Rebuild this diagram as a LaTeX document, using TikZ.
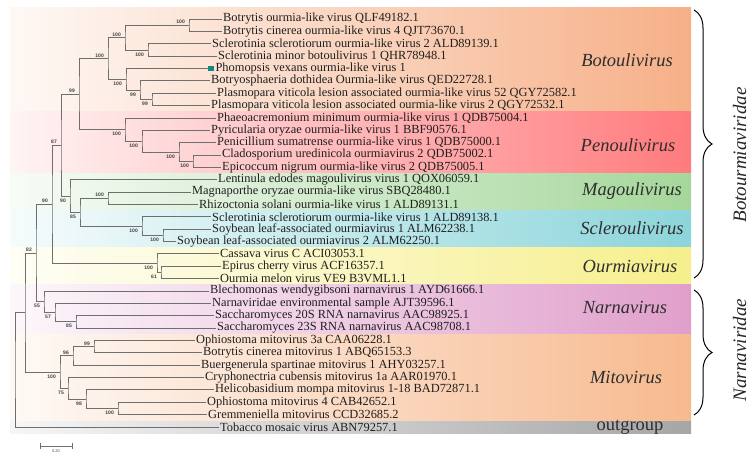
\documentclass[tikz,border=0pt]{standalone}
\usepackage{fontspec}
\setmainfont{Liberation Serif}
\newfontfamily\bsfont{Liberation Sans}
\usetikzlibrary{decorations.pathreplacing}

\definecolor{botoC}{HTML}{F6B088}
\definecolor{penoC}{HTML}{FF7B7D}
\definecolor{magoC}{HTML}{A5D79B}
\definecolor{scleC}{HTML}{8CD5DA}
\definecolor{ourmC}{HTML}{F6EF8C}
\definecolor{narnC}{HTML}{E09FCB}
\definecolor{mitoC}{HTML}{F7BA8F}
\definecolor{outgC}{HTML}{A6A6A6}
\definecolor{treegray}{HTML}{6F6F6F}
\definecolor{phomoC}{HTML}{13897C}

\tikzset{
  branch/.style={draw=treegray, line width=0.7pt},
  leaf/.style={anchor=west, inner sep=1pt, text=black!88,
    font=\fontsize{12.4pt}{13pt}\selectfont},
  genus/.style={inner sep=0pt, text=black!82,
    font=\fontsize{18.5pt}{20pt}\selectfont\itshape},
  family/.style={inner sep=0pt, rotate=90, anchor=base, text=black!85,
    font=\fontsize{19pt}{21pt}\selectfont\itshape},
  bsa/.style={anchor=south east, inner sep=1pt, xshift=-3pt, text=black!75,
    font=\bsfont\bfseries\fontsize{5pt}{6pt}\selectfont},
  bsb/.style={bsa, anchor=north east, yshift=-1.5pt},
  clade/.style={line width=1pt, decorate,
    decoration={brace, amplitude=18pt}}
}

\begin{document}
\begin{tikzpicture}[x=1pt, y=-1pt]
\useasboundingbox (0,0) rectangle (751,454);

% genus bands
\shade [left color=botoC!8, right color=botoC] (10,8) rectangle (691,111.7);
\shade [left color=penoC!8, right color=penoC] (10,111.7) rectangle (691,173.5);
\shade [left color=magoC!8, right color=magoC] (10,173.5) rectangle (691,210.6);
\shade [left color=scleC!8, right color=scleC] (10,210.6) rectangle (691,247.7);
\shade [left color=ourmC!8, right color=ourmC] (10,247.7) rectangle (691,284.8);
\shade [left color=narnC!8, right color=narnC] (10,284.8) rectangle (691,334.2);
\shade [left color=mitoC!8, right color=mitoC] (10,334.2) rectangle (691,421.1);
\shade [left color=outgC!10, right color=outgC] (10,421.1) rectangle (691,433.5);

% tips
\node [leaf] (t1) at (222,19.0) {Botrytis ourmia-like virus QLF49182.1};
\node [leaf] (t2) at (222,31.4) {Botrytis cinerea ourmia-like virus 4 QJT73670.1};
\node [leaf] (t3) at (211,43.7) {Sclerotinia sclerotiorum ourmia-like virus 2 ALD89139.1};
\node [leaf] (t4) at (217,56.1) {Sclerotinia minor botoulivirus 1 QHR78948.1};
\node [anchor=west, fill=phomoC, inner sep=0pt, minimum size=5.5pt] (sq5) at (208,68.4) {};
\node [leaf, right=0.5pt] (t5) at (sq5.east) {Phomopsis vexans ourmia-like virus 1};
\node [leaf] (t6) at (210,80.8) {Botryosphaeria dothidea Ourmia-like virus QED22728.1};
\node [leaf] (t7) at (216,93.2) {Plasmopara viticola lesion associated ourmia-like virus 52 QGY72582.1};
\node [leaf] (t8) at (210,105.5) {Plasmopara viticola lesion associated ourmia-like virus 2 QGY72532.1};
\node [leaf] (t9) at (216,117.9) {Phaeoacremonium minimum ourmia-like virus 1 QDB75004.1};
\node [leaf] (t10) at (210,130.2) {Pyricularia oryzae ourmia-like virus 1 BBF90576.1};
\node [leaf] (t11) at (216,142.6) {Penicillium sumatrense ourmia-like virus 1 QDB75000.1};
\node [leaf] (t12) at (221,155.0) {Cladosporium uredinicola ourmiavirus 2 QDB75002.1};
\node [leaf] (t13) at (221,167.3) {Epicoccum nigrum ourmia-like virus 2 QDB75005.1};
\node [leaf] (t14) at (217,179.7) {Lentinula edodes magoulivirus virus 1 QOX06059.1};
\node [leaf] (t15) at (191,192.0) {Magnaporthe oryzae ourmia-like virus SBQ28480.1};
\node [leaf] (t16) at (198,204.4) {Rhizoctonia solani ourmia-like virus 1 ALD89131.1};
\node [leaf] (t17) at (211,216.8) {Sclerotinia sclerotiorum ourmia-like virus 1 ALD89138.1};
\node [leaf] (t18) at (211,229.1) {Soybean leaf-associated ourmiavirus 1 ALM62238.1};
\node [leaf] (t19) at (176,241.5) {Soybean leaf-associated ourmiavirus 2 ALM62250.1};
\node [leaf] (t20) at (219,253.8) {Cassava virus C ACI03053.1};
\node [leaf] (t21) at (221,266.2) {Epirus cherry virus ACF16357.1};
\node [leaf] (t22) at (219,278.6) {Ourmia melon virus VE9 B3VML1.1};
\node [leaf] (t23) at (209,290.9) {Blechomonas wendygibsoni narnavirus 1 AYD61666.1};
\node [leaf] (t24) at (211,303.3) {Narnaviridae environmental sample AJT39596.1};
\node [leaf] (t25) at (214,315.6) {Saccharomyces 20S RNA narnavirus AAC98925.1};
\node [leaf] (t26) at (216,328.0) {Saccharomyces 23S RNA narnavirus AAC98708.1};
\node [leaf] (t27) at (195,340.4) {Ophiostoma mitovirus 3a CAA06228.1};
\node [leaf] (t28) at (202,352.7) {Botrytis cinerea mitovirus 1 ABQ65153.3};
\node [leaf] (t29) at (200,365.1) {Buergenerula spartinae mitovirus 1 AHY03257.1};
\node [leaf] (t30) at (204,377.4) {Cryphonectria cubensis mitovirus 1a AAR01970.1};
\node [leaf] (t31) at (214,389.8) {Helicobasidium mompa mitovirus 1-18 BAD72871.1};
\node [leaf] (t32) at (206,402.2) {Ophiostoma mitovirus 4 CAB42652.1};
\node [leaf] (t33) at (207,414.5) {Gremmeniella mitovirus CCD32685.2};
\node [leaf] (t34) at (219,426.9) {Tobacco mosaic virus ABN79257.1};

% inner nodes
\coordinate (a12) at (189,25.2);
\coordinate (a34) at (148,49.9);
\coordinate (a1234) at (125,37.6);
\coordinate (a78) at (152,99.4);
\coordinate (a678) at (140,90.1);
\coordinate (a5678) at (126,79.3);
\coordinate (abot) at (108,58.4);
\coordinate (p1213) at (193,161.2);
\coordinate (p11) at (179,151.9);
\coordinate (p10) at (142,141.1);
\coordinate (p9) at (125,129.5);
\coordinate (bp) at (79,94.0);
\coordinate (m1516) at (108,198.2);
\coordinate (s1819) at (163,235.3);
\coordinate (s17) at (142,226.1);
\coordinate (ms) at (80,212.2);
\coordinate (lms) at (70,195.9);
\coordinate (bpml) at (61,145.0);
\coordinate (o2122) at (161,272.4);
\coordinate (o20) at (157,263.1);
\coordinate (bo) at (52,204.0);
\coordinate (n2526) at (76,321.8);
\coordinate (n24) at (55,312.6);
\coordinate (n23) at (44,301.7);
\coordinate (bn) at (36,252.9);
\coordinate (i2728) at (94,346.6);
\coordinate (i29) at (73,355.8);
\coordinate (i3233) at (118,408.4);
\coordinate (i31) at (86,399.1);
\coordinate (i30) at (68,388.3);
\coordinate (imito) at (60,372.0);
\coordinate (bm) at (25,312.5);
\coordinate (root) at (15,369.7);

% branches
\draw [branch] (t1.west) -| (a12) |- (t2.west);
\draw [branch] (t3.west) -| (a34) |- (t4.west);
\draw [branch] (a12) -| (a1234) |- (a34);
\draw [branch] (t7.west) -| (a78) |- (t8.west);
\draw [branch] (t6.west) -| (a678) |- (a78);
\draw [branch] (sq5.west) -| (a5678) |- (a678);
\draw [branch] (a1234) -| (abot) |- (a5678);
\draw [branch] (t12.west) -| (p1213) |- (t13.west);
\draw [branch] (t11.west) -| (p11) |- (p1213);
\draw [branch] (t10.west) -| (p10) |- (p11);
\draw [branch] (t9.west) -| (p9) |- (p10);
\draw [branch] (abot) -| (bp) |- (p9);
\draw [branch] (t15.west) -| (m1516) |- (t16.west);
\draw [branch] (t18.west) -| (s1819) |- (t19.west);
\draw [branch] (t17.west) -| (s17) |- (s1819);
\draw [branch] (m1516) -| (ms) |- (s17);
\draw [branch] (t14.west) -| (lms) |- (ms);
\draw [branch] (bp) -| (bpml) |- (lms);
\draw [branch] (t21.west) -| (o2122) |- (t22.west);
\draw [branch] (t20.west) -| (o20) |- (o2122);
\draw [branch] (bpml) -| (bo) |- (o20);
\draw [branch] (t25.west) -| (n2526) |- (t26.west);
\draw [branch] (t24.west) -| (n24) |- (n2526);
\draw [branch] (t23.west) -| (n23) |- (n24);
\draw [branch] (bo) -| (bn) |- (n23);
\draw [branch] (t27.west) -| (i2728) |- (t28.west);
\draw [branch] (i2728) -| (i29) |- (t29.west);
\draw [branch] (t32.west) -| (i3233) |- (t33.west);
\draw [branch] (t31.west) -| (i31) |- (i3233);
\draw [branch] (t30.west) -| (i30) |- (i31);
\draw [branch] (i29) -| (imito) |- (i30);
\draw [branch] (bn) -| (bm) |- (imito);
\draw [branch] (bm) -| (root) |- (t34.west);

% bootstrap values
\node [bsa] (b1) at (a12) {100};
\node [bsb] (b2) at (a34) {100};
\node [bsa] (b3) at (a1234) {100};
\node [bsb] (b4) at (a78) {99};
\node [bsb] (b5) at (a678) {99};
\node [bsb] (b6) at (a5678) {100};
\node [bsa] (b7) at (abot) {100};
\node [bsb] (b8) at (p1213) {100};
\node [bsb] (b9) at (p11) {100};
\node [bsb] (b10) at (p10) {100};
\node [bsb] (b11) at (p9) {100};
\node [bsa] (b12) at (bp) {99};
\node [bsa] (b13) at (m1516) {100};
\node [bsb] (b14) at (s1819) {100};
\node [bsb] (b15) at (s17) {100};
\node [bsb] (b16) at (ms) {85};
\node [bsb] (b17) at (lms) {90};
\node [bsa] (b18) at (bpml) {87};
\node [bsb] (b19) at (o2122) {61};
\node [bsb] (b20) at (o20) {100};
\node [bsa] (b21) at (bo) {90};
\node [bsb] (b22) at (n2526) {85};
\node [bsb] (b23) at (n24) {57};
\node [bsb] (b24) at (n23) {55};
\node [bsa] (b25) at (bn) {82};
\node [bsa] (b26) at (i2728) {99};
\node [bsa] (b27) at (i29) {96};
\node [bsb] (b28) at (i3233) {100};
\node [bsb] (b29) at (i31) {98};
\node [bsb] (b30) at (i30) {75};
\node [bsb] (b31) at (imito) {100};

% genus names
\node [genus] (g1) at (627,60) {Botoulivirus};
\node [genus] (g2) at (628,145) {Penoulivirus};
\node [genus] (g3) at (632,191) {Magoulivirus};
\node [genus] (g4) at (632,228) {Scleroulivirus};
\node [genus] (g5) at (630,266) {Ourmiavirus};
\node [genus] (g6) at (625,307) {Narnavirus};
\node [genus] (g7) at (626,377) {Mitovirus};
\node [genus, font=\fontsize{18.5pt}{20pt}\selectfont] (g8) at (630,427) {outgroup};

% families
\draw [clade] (694,10) -- (694,278);
\draw [clade] (694,290) -- (694,415);
\node [family] (f1) at (746,155) {Botourmiaviridae};
\node [family] (f2) at (746,350) {Narnaviridae};

% scale bar
\coordinate (sb1) at (40,446);
\coordinate (sb2) at (73,446);
\draw [treegray, line width=0.7pt, |-|] (sb1) -- (sb2);
\node [inner sep=0pt, text=black!70, font=\bsfont\fontsize{4pt}{5pt}\selectfont] (sbl) at (56,451) {0.20};
\end{tikzpicture}
\end{document}
